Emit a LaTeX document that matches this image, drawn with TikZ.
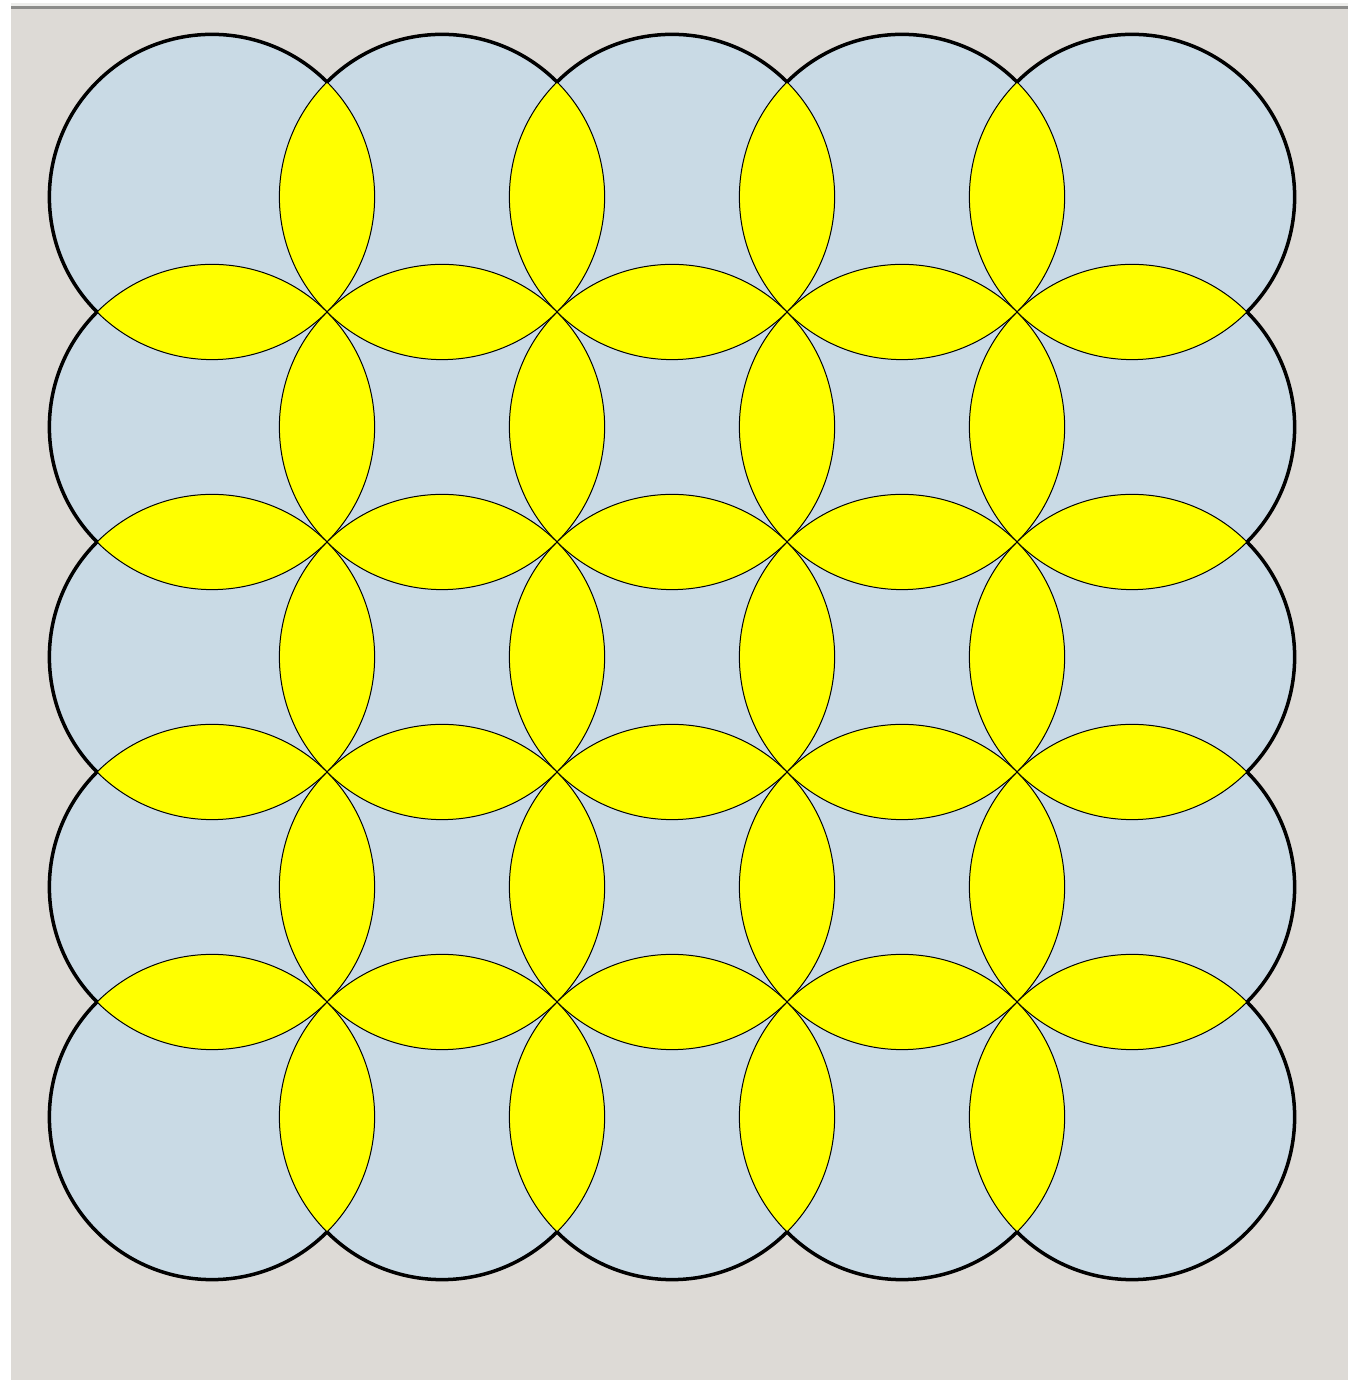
\documentclass[tikz,border=0pt]{standalone}
\definecolor{bg}{HTML}{DDDAD6}
\definecolor{disc}{HTML}{C9DAE5}
\definecolor{petal}{HTML}{FFFF00}
\definecolor{topdark}{HTML}{8C8C8A}
\definecolor{toplight}{HTML}{EDEDEB}
\begin{document}
\begin{tikzpicture}[x=1pt,y=1pt,
  lensstyle/.style={fill=petal, draw=black, line width=1pt},
  rim/.style={draw=black, line width=3.5pt, line cap=round}]
\useasboundingbox (0,0) rectangle (1361,1380);
\fill[white] (0,0) rectangle (1361,1380);
\fill[bg] (11,0) rectangle (1348,1371);
\fill[topdark] (11,1371) rectangle (1348,1374);
\fill[toplight] (11,1374) rectangle (1348,1377);
\def\r{162.63}
% discs
\foreach \i in {0,...,4}
  \foreach \j in {0,...,4}
    \fill[disc] ({212+230*\i},{1183-230*\j}) circle[radius=\r];
% horizontal lenses
\foreach \i in {0,...,3}
  \foreach \j in {0,...,4}
    \path[lensstyle] ({327+230*\i},{1298-230*\j})
      arc[start angle=45,end angle=-45,radius=\r]
      arc[start angle=225,end angle=135,radius=\r] -- cycle;
% vertical lenses
\foreach \i in {0,...,4}
  \foreach \j in {0,...,3}
    \path[lensstyle] ({327+230*\i},{1068-230*\j})
      arc[start angle=-45,end angle=-135,radius=\r]
      arc[start angle=135,end angle=45,radius=\r] -- cycle;
% outer rims
\foreach \i in {0,...,4}{
  \path[rim] ({327+230*\i},1298) arc[start angle=45,end angle=135,radius=\r];
  \path[rim] ({97+230*\i},148) arc[start angle=225,end angle=315,radius=\r];
}
\foreach \j in {0,...,4}{
  \path[rim] (97,{1298-230*\j}) arc[start angle=135,end angle=225,radius=\r];
  \path[rim] (1247,{1068-230*\j}) arc[start angle=-45,end angle=45,radius=\r];
}
\end{tikzpicture}
\end{document}
